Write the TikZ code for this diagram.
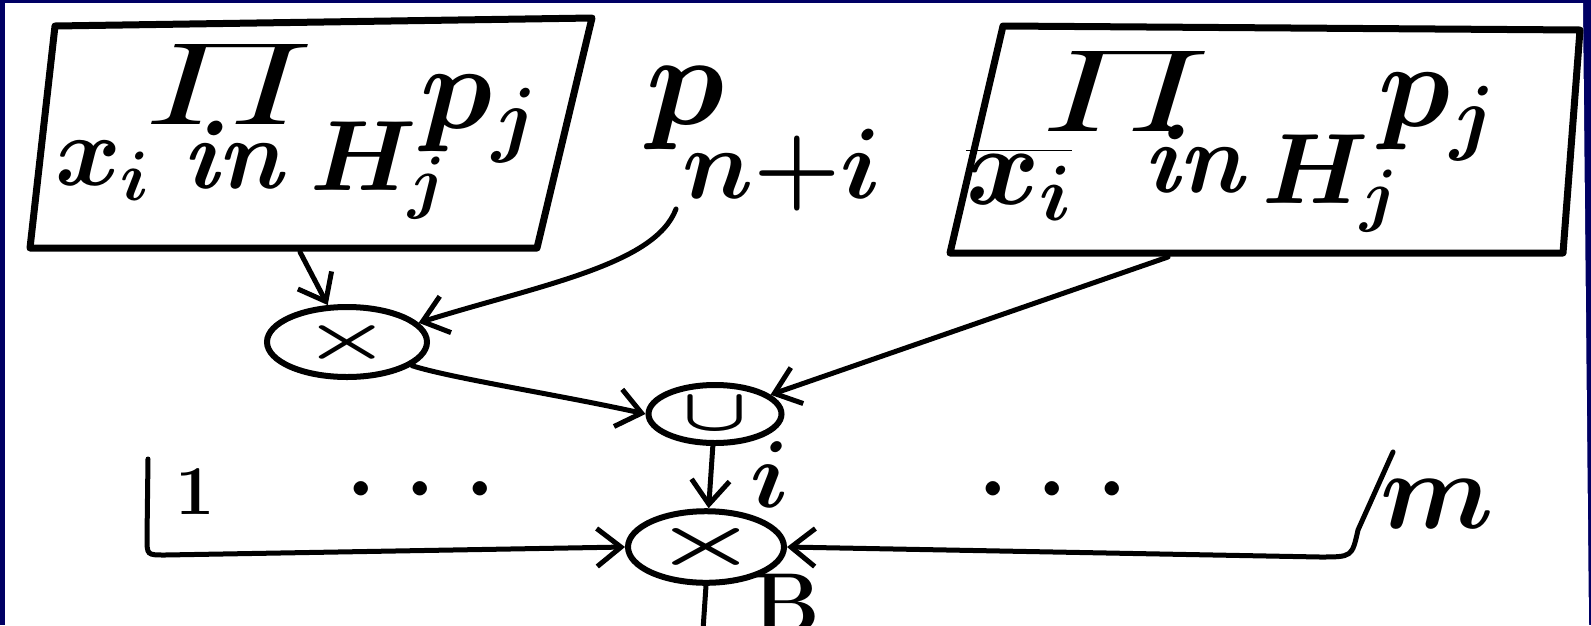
\RequirePackage{fix-cm}
\documentclass[tikz,border=0pt]{standalone}
\usepackage{amsmath}
\usepackage{graphicx}
\usetikzlibrary{arrows.meta,shapes.geometric}
\definecolor{framecol}{RGB}{0,0,100}
\tikzset{
  boxline/.style={line width=7pt, line join=round, line cap=round},
  conn/.style={line width=5pt, line cap=round, -{Straight Barb[length=24pt,width=38pt]}},
  plainline/.style={line width=5pt},
  opcircle/.style={ellipse, draw, line width=6pt, inner sep=0pt},
  hw/.style={inner sep=0pt, outer sep=0pt},
  big/.style={font=\fontsize{100}{100}\selectfont\bfseries\boldmath},
  bigger/.style={font=\fontsize{120}{120}\selectfont\boldmath},
  prodsym/.style={inner sep=0pt, outer sep=0pt, font=\normalsize, xslant=0.3, transform shape},
}
\begin{document}
\begin{tikzpicture}[x=1pt,y=-1pt]
\useasboundingbox (0,0) rectangle (1591,625);
\fill[framecol] (0,0) rectangle (1591,625);
\fill[white] (5,3) -- (1583,3) -- (1589,625) -- (5,625) -- cycle;

% left box
\draw[boxline] (55,26) -- (592,18) -- (537,248) -- (30,248) -- cycle;
\node[prodsym] (Lprod) at (230,84) {\scalebox{16}[8]{$\prod$}};
\node[hw, big, anchor=base west] (Lx) at (55,185) {$x_i$};
\node[hw, big, anchor=base west] (Lin) at (182,188) {\textit{in}};
\node[hw, big, anchor=base west] (LH) at (310,190) {$H_j$};
\node[hw, bigger, anchor=base west] (Lp) at (420,128) {$p_j$};
\coordinate (Lb) at (300,252);

% p_{n+i}
\node[hw, big, anchor=base west] (P) at (646,124) {{\fontsize{130}{130}\selectfont$p$}\hspace{-42pt}\raisebox{-74pt}{$n{+}i$}};
\coordinate (pn) at (676,209);

% right box
\draw[boxline] (1003,26) -- (1580,30) -- (1563,253) -- (950,253) -- cycle;
\node[prodsym] (Rprod) at (1127,91) {\scalebox{16}[8]{$\prod$}};
\node[hw, font=\fontsize{112}{112}\selectfont\boldmath, anchor=base west] (Rx) at (966,204) {$\overline{x_i}$};
\node[hw, big, anchor=base west] (Rin) at (1143,192) {\textit{in}};
\node[hw, big, anchor=base west] (RH) at (1262,203) {$H_j$};
\node[hw, bigger, anchor=base west] (Rp) at (1378,126) {$p_j$};
\coordinate (Rb) at (1168,257);

% operator circles
\node[opcircle, minimum width=160pt, minimum height=70pt, big] (M1) at (347,342) {\scalebox{1}[0.6]{$\times$}};
\node[opcircle, minimum width=133pt, minimum height=58pt, font=\fontsize{85}{85}\selectfont\boldmath] (U) at (715,414) {\scalebox{1}[0.7]{$\cup$}};
\node[opcircle, minimum width=156pt, minimum height=60pt, font=\fontsize{120}{120}\selectfont\boldmath] (M2) at (706,547) {\scalebox{1}[0.55]{$\times$}};

% connectors
\draw[conn] (Lb) -- (M1);
\draw[conn] (pn) .. controls (655,265) and (540,285) .. (M1.15);
\draw[conn] (Rb) -- (U);
\draw[conn] (M1.-20) .. controls (450,378) and (560,395) .. (U.west);
\draw[conn] (U) -- (M2);

% brackets 1 ... m
\coordinate (b1) at (148,459);
\coordinate (b2) at (1393,452);
\coordinate (bo) at (703,630);
\draw[conn] (b1) -- (147,538) .. controls (147,555) .. (165,555) -- (M2.west);
\draw[conn] (b2) -- (1358,530) .. controls (1352,557) .. (1320,557) -- (M2.east);
\draw[plainline] (M2.south) -- (bo);

% labels
\node[hw, font=\fontsize{95}{95}\selectfont\boldmath, anchor=base west] (ilab) at (750,507) {$i$};
\node[hw, font=\fontsize{70}{70}\selectfont\bfseries] (one) at (195,492) {1};
\node[hw, font=\fontsize{135}{135}\selectfont, anchor=base] (dl) at (432,522) {$\cdots$};
\node[hw, font=\fontsize{135}{135}\selectfont, anchor=base] (dr) at (1064,522) {$\cdots$};
\node[hw, font=\fontsize{110}{110}\selectfont\boldmath, anchor=base west] (mlab) at (1380,528) {$m$};
\node[hw, font=\fontsize{85}{85}\selectfont\bfseries, anchor=north west] (Blab) at (752,574) {B};
\end{tikzpicture}
\end{document}
